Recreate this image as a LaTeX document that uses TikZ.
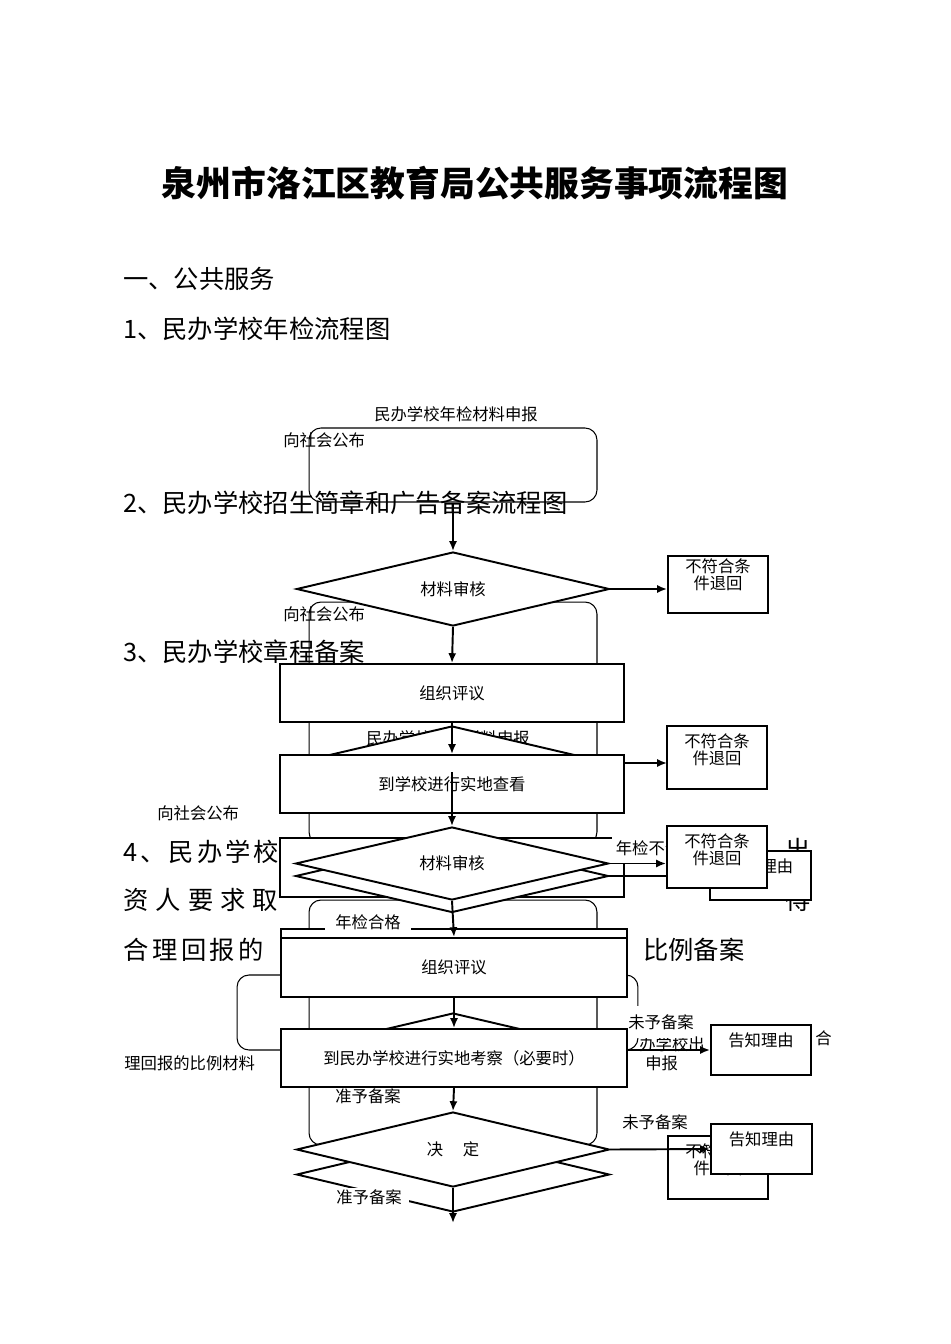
\documentclass[tikz,border=0pt]{standalone}
\usepackage{fontspec}
\setmainfont{Noto Sans CJK SC}
\usetikzlibrary{shapes.geometric, arrows.meta}

\begin{document}
\begin{tikzpicture}[x=0.02cm, y=-0.02cm,
                    heading/.style={anchor=west, inner sep=0pt, font=\fontsize{14.4}{16}\selectfont},
                    side label/.style={inner sep=0pt, font=\fontsize{9.3}{9.8}\selectfont},
                    cover label/.style={side label, fill=white, inner xsep=2pt, inner ysep=3pt},
                    group frame/.style={draw, rounded corners=6.8pt, line width=0.6pt, minimum width=5.76cm},
                    task box/.style={draw, fill=white, line width=1.1pt, minimum width=6.9cm, minimum height=1.17cm, inner sep=0pt, font=\fontsize{9.3}{9.8}\selectfont},
                    check diamond/.style={diamond, draw, fill=white, line width=1.1pt, aspect=4.2, minimum width=6.26cm, minimum height=1.48cm, inner sep=0pt, font=\fontsize{9.3}{9.8}\selectfont},
                    reject box/.style={draw, fill=white, line width=1.1pt, minimum width=2cm, minimum height=1.26cm, inner sep=0pt},
                    box text/.style={inner sep=0pt, align=center, font=\fontsize{9.3}{9.8}\selectfont},
                    flow arrow/.style={-{Latex[length=5.6pt, width=4.6pt]}, line width=1.1pt}]
  \useasboundingbox (0,0) rectangle (950,1344);

  % title and headings
  \node[inner sep=0pt, font=\bfseries\fontsize{19.8}{22}\selectfont] (title) at (475,183) {泉州市洛江区教育局公共服务事项流程图};
  \node[heading] (h0) at (123,279) {一、公共服务};
  \node[heading] (h1) at (123,329) {1、民办学校年检流程图};
  \node[heading] (h2) at (123,503) {2、民办学校招生简章和广告备案流程图};
  \node[heading] (h3) at (123,652) {3、民办学校章程备案};
  \node[heading, font=\fontsize{14.4}{16}\selectfont\addfontfeatures{LetterSpace=12}] (h4a) at (123,852) {4、民办学校};
  \node[heading, font=\fontsize{14.4}{16}\selectfont\addfontfeatures{LetterSpace=28}] (h4b) at (123,900) {资人要求取};
  \node[heading, font=\fontsize{14.4}{16}\selectfont\addfontfeatures{LetterSpace=14}] (h4c) at (123,950) {合理回报的};
  \node[heading] (h4d) at (643,950) {比例备案};
  \node[heading] (h4e) at (785,850) {出};
  \node[heading] (h4f) at (785,900) {得};

  % loose labels
  \node[side label] (apply1) at (456,414) {民办学校年检材料申报};
  \node[side label, anchor=west] (pub1) at (283,440) {向社会公布};
  \node[side label, anchor=west] (pub2) at (283,614) {向社会公布};
  \node[side label, anchor=west] (pub3) at (157,813) {向社会公布};
  \node[side label] (apply2) at (448,738) {民办学校年检材料申报};
  \node[side label, anchor=west] (ratio) at (124,1063) {理回报的比例材料};
  \node[side label, anchor=west] (he) at (815,1038) {合};
  \node[side label, anchor=west] (school) at (639,1044) {办学校出};
  \node[side label, anchor=west] (report) at (645,1063) {申报};
  \node[side label, anchor=west] (grant1) at (335,1096) {准予备案};

  % frames
  \node[group frame, minimum height=1.48cm] (frame1) at (453,465) {};
  \node[group frame, minimum height=4.84cm] (frame2) at (453,723) {};
  \node[group frame, minimum height=4.9cm] (frame3) at (453,1022.5) {};
  \node[group frame, minimum width=8.02cm, minimum height=1.5cm] (frame4) at (437.5,1012.5) {};

  % first check
  \node[check diamond] (check1) at (453,589) {材料审核};
  \node[reject box, minimum height=1.14cm] (back1) at (718,584.5) {};
  \node[box text, below=1.7pt] (back1 text) at (back1.north) {不符合条\\件退回};
  \path[flow arrow] (frame1.south) edge (check1.north);
  \path[flow arrow] (check1.east) edge (check1.east -| back1.west);

  % hidden check
  \node[check diamond, minimum width=6.28cm] (check2) at (452,763) {};
  \path[flow arrow] (check2.east) edge (check2.east -| back1.west);
  \node[reject box] (back2) at (717,757.5) {};
  \node[box text, below=4.5pt] (back2 text) at (back2.north) {不符合条\\件退回};

  \node[task box, minimum width=6.88cm, minimum height=1.16cm] (review1) at (452,693) {组织评议};
  \path[flow arrow] (check1.south) edge (review1.north);
  \node[task box, minimum width=6.88cm, minimum height=1.16cm] (visit1) at (452,784) {到学校进行实地查看};
  \path[flow arrow] (review1.south) edge (visit1.north);
  \coordinate (visit1 mid) at (452,772);

  % year check
  \node[task box, minimum width=6.88cm, minimum height=1.18cm] (hidden1) at (452,867.5) {};
  \node[check diamond, minimum height=1.46cm] (check3b) at (452,876) {};
  \node[check diamond, minimum height=1.46cm] (check3) at (452,863.5) {材料审核};
  \path[flow arrow] (visit1 mid) edge (check3.north);
  \node[cover label, anchor=west, inner ysep=4pt] (fail) at (612,848) {年检不合格};
  \node[reject box, minimum width=2.02cm, minimum height=0.98cm] (tell1) at (760.5,875.5) {};
  \node[box text, below=4.5pt] (tell1 text) at (tell1.north) {告知理由};
  \node[reject box, minimum height=1.24cm] (back3) at (717,857) {};
  \node[box text, below=4.5pt] (back3 text) at (back3.north) {不符合条\\件退回};
  \path[flow arrow] (check3.east) edge (check3.east -| back3.west);
  \draw[line width=1.1pt] (check3b.east) -- (check3b.east -| back3.west);

  % filing
  \node[task box, minimum width=6.92cm, minimum height=1.22cm] (hidden2) at (454,959.5) {};
  \node[cover label, inner xsep=5.7pt] (pass) at (368,922) {年检合格};
  \node[task box, minimum width=6.92cm, minimum height=1.18cm] (review2) at (454,967.5) {组织评议};
  \path[flow arrow] (check3.south) edge (review2.north);

  \node[check diamond, minimum width=6.28cm] (check4) at (453,1050) {};
  \node[reject box, minimum height=1cm] (tell2) at (761,1050) {};
  \node[box text, below=4.5pt] (tell2 text) at (tell2.north) {告知理由};
  \path[flow arrow] (check4.east) edge (tell2.west);
  \node[task box, minimum width=6.92cm, minimum height=1.16cm] (visit2) at (454,1058) {到民办学校进行实地考察（必要时）};
  \path[flow arrow] (review2.south) edge (visit2.north);
  \node[cover label, anchor=west, inner xsep=0pt, inner ysep=5pt] (refuse1) at (628,1022) {未予备案};

  % decision
  \node[reject box] (back5) at (718,1167.5) {};
  \node[box text, below=4.5pt] (back5 text) at (back5.north) {不符合条\\件退回};
  \node[check diamond, minimum height=1.5cm] (decide b) at (453,1174.5) {};
  \node[check diamond, minimum height=1.5cm] (decide) at (453,1149.5) {决\hspace{1.2em}定};
  \node[reject box, minimum width=2.02cm, minimum height=1cm] (tell3) at (761.5,1149) {};
  \node[box text, below=4.5pt] (tell3 text) at (tell3.north) {告知理由};
  \path[flow arrow] (decide.east) edge (tell3.west);
  \path[flow arrow] (visit2.south) edge (decide.north);
  \coordinate (finish) at (453,1223);
  \path[flow arrow] (decide.south) edge (finish);
  \node[cover label, anchor=west, inner xsep=4pt, inner ysep=1pt] (grant2) at (329,1197) {准予备案};
  \node[side label, anchor=west] (refuse2) at (622,1122) {未予备案};
\end{tikzpicture}
\end{document}
